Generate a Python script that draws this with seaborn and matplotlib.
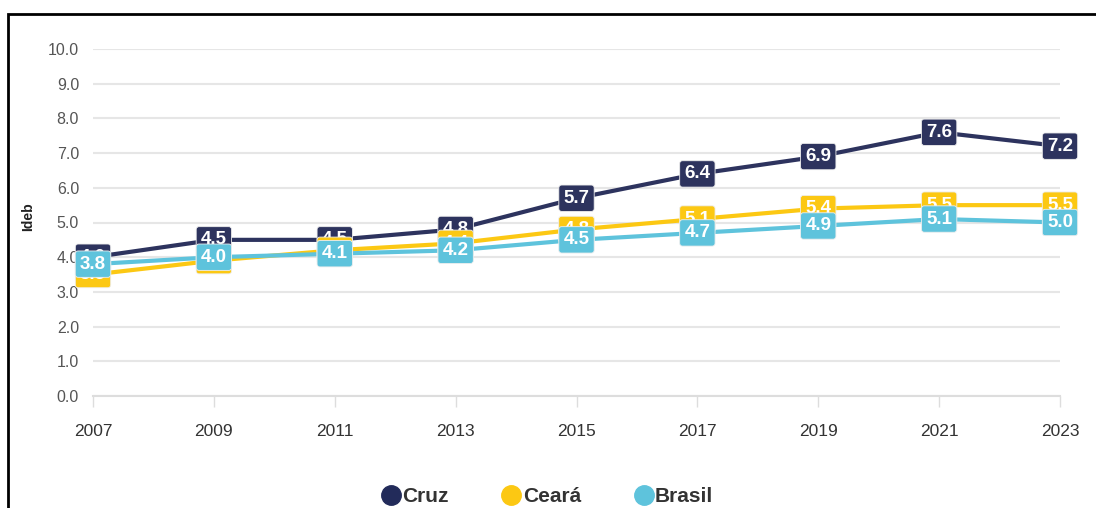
import pandas as pd
import matplotlib.pyplot as plt
import matplotlib.patches as patches
from matplotlib.lines import Line2D
import seaborn as sns

# data
anos = [2007, 2009, 2011, 2013, 2015, 2017, 2019, 2021, 2023]
cruz = [4.0, 4.5, 4.5, 4.8, 5.7, 6.4, 6.9, 7.6, 7.2]
ceara = [3.5, 3.9, 4.2, 4.4, 4.8, 5.1, 5.4, 5.5, 5.5]
brasil = [3.8, 4.0, 4.1, 4.2, 4.5, 4.7, 4.9, 5.1, 5.0]
series = ["Cruz", "Ceará", "Brasil"]
cores = {"Cruz": "#2d335e", "Ceará": "#fcc813", "Brasil": "#5ec3dc"}

df = pd.DataFrame({"Ano": anos * 3,
                   "Ideb": cruz + ceara + brasil,
                   "Local": sum([[s] * len(anos) for s in series], [])})

sns.set_theme(style="white")
plt.rcParams['font.family'] = ['Liberation Sans Narrow', 'Liberation Sans', 'DejaVu Sans']

fig = plt.figure(figsize=(10.96, 5.08), dpi=100)
ax = fig.add_axes([93 / 1096, 112 / 508, 967 / 1096, 347 / 508])

sns.lineplot(data=df, x="Ano", y="Ideb", hue="Local", palette=cores,
             linewidth=3, ax=ax, legend=False, zorder=3,
             solid_joinstyle="round", solid_capstyle="round")

ax.set_xlim(2007, 2023)
ax.set_ylim(0, 10)
ax.set_yticks([i for i in range(11)])
ax.set_yticklabels([f"{i:.1f}" for i in range(11)], fontsize=11.5, color="#555555")
ax.set_xticks(anos)
ax.set_xticklabels([str(a) for a in anos], fontsize=12.5, color="#333333")
ax.grid(axis="y", color="#e6e6e6", linewidth=1.5)
ax.grid(axis="x", visible=False)
for s in ["top", "right", "left"]:
    ax.spines[s].set_visible(False)
ax.spines["bottom"].set_color("#dddddd")
ax.spines["bottom"].set_linewidth(1.5)
ax.tick_params(axis="x", length=8, width=1, color="#dddddd", pad=12, direction="out", bottom=True)
ax.tick_params(axis="y", length=0, pad=10)
ax.set_xlabel("")
ax.set_ylabel("")
fig.text(28 / 1096, 1 - 217 / 508, "Ideb", rotation=90, ha="center", va="center",
         fontsize=10, fontweight="bold", color="#222222",
         family=['Liberation Sans', 'DejaVu Sans'])

# value labels, Cruz below, Brasil on top
valores = {"Cruz": cruz, "Ceará": ceara, "Brasil": brasil}
for z, s in enumerate(series):
    for a, v in zip(anos, valores[s]):
        ax.text(a, v, f"{v:.1f}", ha="center", va="center", fontsize=13.5,
                fontweight="bold", color="white", zorder=10 + z, clip_on=False,
                bbox=dict(boxstyle="round,pad=0.25,rounding_size=0.15",
                          facecolor=cores[s], edgecolor="#eeeeee", linewidth=0.6))

handles = [Line2D([], [], marker="o", linestyle="", markersize=14,
                  markerfacecolor=cores[s], markeredgecolor=cores[s]) for s in series]
handles[0].set_markerfacecolor("#222b5a")
handles[0].set_markeredgecolor("#222b5a")
leg = fig.legend(handles, series, loc="center", bbox_to_anchor=(0.5, 0.022), ncol=3,
                 frameon=False, handlelength=0.8, handletextpad=0.15, columnspacing=2.6,
                 prop={"size": 15, "weight": "bold", "family": ['Liberation Sans', 'DejaVu Sans']})
for t in leg.get_texts():
    t.set_color("#333333")

# outer frame
fig.patches.append(patches.Rectangle((8 / 1096, -0.05), 1.2, (508 - 14) / 508 + 0.05,
                                     transform=fig.transFigure, fill=False,
                                     edgecolor="black", linewidth=2))

fig.savefig("out.png", dpi=100)
